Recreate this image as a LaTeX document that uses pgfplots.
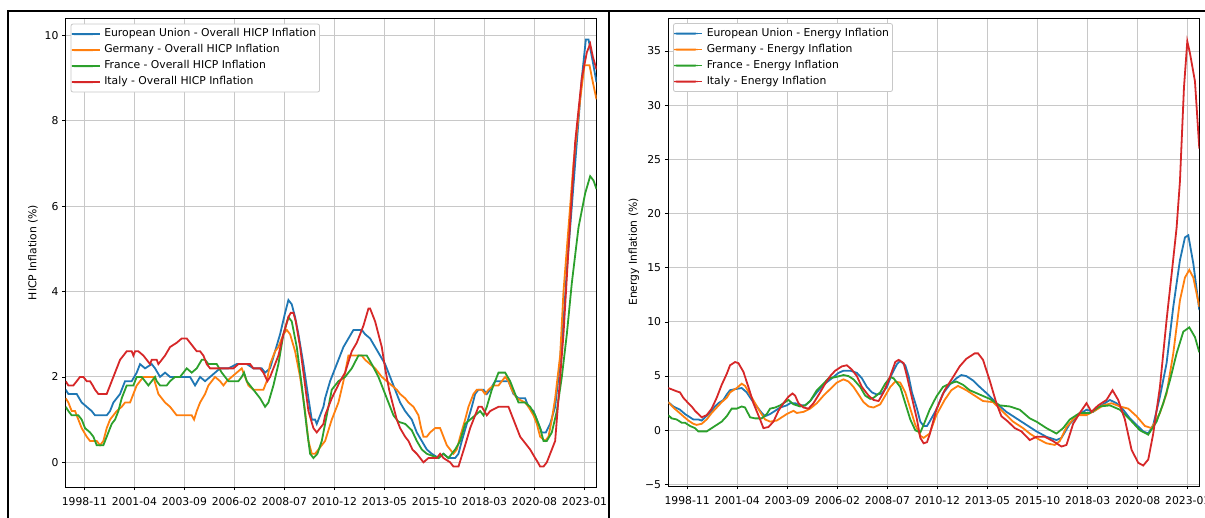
\documentclass[border=0pt]{standalone}
\usepackage{fontspec}
\setmainfont{DejaVu Sans}
\usepackage{pgfplots}
\pgfplotsset{compat=1.18}
\definecolor{cEU}{HTML}{1F77B4}
\definecolor{cDE}{HTML}{FF7F0E}
\definecolor{cFR}{HTML}{2CA02C}
\definecolor{cIT}{HTML}{D62728}
\definecolor{gridc}{HTML}{C8C8C8}
\newcommand{\ff}{\fontsize{10.8}{13}\selectfont}
\pgfplotsset{
  dl/.style={line width=1.8pt},
  panel/.style={
    scale only axis, anchor=south west,
    axis line style={line width=0.8pt},
    tick align=outside, major tick length=3.5pt, tick pos=left,
    every tick/.style={line width=0.8pt, black},
    xtick={0,30,60,90,120,150,180,210,240,270,300},
    xticklabels={1998-11,2001-04,2003-09,2006-02,2008-07,2010-12,2013-05,2015-10,2018-03,2020-08,2023-01},
    xticklabel shift=3pt,
    grid=major, major grid style={line width=0.9pt, color=gridc},
    /pgf/number format/assume math mode=true,
    tick label style={font=\ff},
    label style={font=\ff},
    legend cell align=left,
    legend image code/.code={\fill[##1, draw=none] (0pt,-1pt) rectangle (23pt,1pt); \path (0pt,0pt) -- (28pt,0pt);},
    legend style={anchor=north west, draw=gridc, line width=0.8pt,
      fill=white, rounded corners=2pt,
      inner xsep=0pt, inner ysep=2pt, row sep=0pt,
      nodes={inner ysep=3pt, inner xsep=3.5pt, text height=7.5pt, text depth=2.5pt},
      font=\ff},
  }
}
\begin{document}
\ff
\begin{tikzpicture}[x=1pt,y=1pt]
\useasboundingbox (0,0) rectangle (1205,518);
\begin{axis}[panel, at={(65.7pt,31pt)}, width=530.8pt, height=469pt,
  xmin=-11.2, xmax=307.2, ymin=-0.578, ymax=10.405,
  ytick={0,2,4,6,8,10},
  ylabel={HICP Inflation (\%)},
  every axis y label/.style={at={(axis description cs:-0.0616,0.5)}, rotate=90, anchor=center},
  legend style={at={(0.0092,0.988)}},
]
\addplot[cEU, dl] coordinates {(-11.2,1.7) (-9.6,1.6) (-4.6,1.6) (-1.6,1.4) (1.4,1.3) (4.4,1.2) (6.4,1.1) (13.4,1.1) (15.4,1.2) (17.4,1.4) (21.4,1.6) (24.4,1.9) (28.4,1.9) (31.4,2.1) (33.4,2.3) (36.4,2.2) (40.4,2.3) (42.4,2.2) (45.4,2.0) (48.4,2.1) (51.4,2.0) (63.4,2.0) (66.4,1.8) (69.4,2.0) (72.4,1.9) (75.4,2.0) (78.4,2.1) (81.4,2.2) (86.4,2.2) (91.4,2.3) (97.4,2.3) (101.4,2.2) (106.4,2.2) (108.4,2.1) (111.4,2.2) (114.4,2.6) (117.4,3.0) (120.4,3.5) (122.4,3.8) (124.4,3.7) (126.4,3.4) (128.4,3.0) (131.4,2.3) (134.4,1.5) (136.4,1.0) (138.4,1.0) (139.4,0.9) (143.4,1.3) (144.4,1.5) (147.4,1.9) (150.4,2.2) (153.4,2.5) (155.4,2.7) (158.4,2.9) (161.4,3.1) (166.4,3.1) (168.4,3.0) (171.4,2.9) (174.4,2.7) (177.4,2.5) (180.4,2.3) (183.4,2.0) (186.4,1.7) (189.4,1.4) (192.4,1.2) (196.4,1.0) (199.4,0.7) (202.4,0.5) (205.4,0.3) (208.4,0.2) (212.4,0.1) (215.4,0.2) (218.4,0.1) (222.4,0.1) (224.4,0.2) (226.4,0.5) (229.4,0.9) (232.4,1.3) (234.4,1.6) (236.4,1.7) (239.4,1.7) (241.4,1.6) (243.4,1.7) (246.4,1.9) (254.4,1.9) (257.4,1.6) (260.4,1.5) (264.4,1.5) (266.4,1.3) (269.4,1.2) (272.4,0.9) (274.4,0.7) (276.8,0.7) (279.4,0.9) (282.4,1.3) (284.4,2.0) (287.4,3.3) (289.4,4.5) (292.4,6.0) (295.4,7.5) (298.4,9.0) (300.8,9.9) (302.4,9.9) (304.4,9.5) (307.2,8.9)};
\addlegendentry{European Union - Overall HICP Inflation}
\addplot[cDE, dl] coordinates {(-11.2,1.5) (-9.6,1.4) (-7.6,1.2) (-5.6,1.2) (-3.6,1.0) (-1.6,0.8) (1.4,0.6) (3.4,0.5) (7.4,0.5) (9.4,0.4) (11.4,0.5) (13.4,0.8) (15.4,1.0) (19.4,1.2) (22.4,1.3) (24.4,1.4) (27.4,1.4) (29.4,1.6) (31.4,1.8) (33.4,1.9) (35.4,2.0) (41.4,2.0) (44.4,1.6) (46.4,1.5) (48.4,1.4) (51.4,1.3) (53.4,1.2) (55.4,1.1) (64.4,1.1) (65.8,1.0) (67.4,1.2) (69.4,1.4) (72.4,1.6) (74.4,1.8) (76.4,1.9) (78.4,2.0) (81.4,1.9) (83.4,1.8) (85.4,1.9) (88.4,2.0) (91.4,2.1) (94.4,2.2) (96.4,2.0) (98.4,1.8) (101.4,1.7) (107.4,1.7) (109.4,1.9) (111.4,2.3) (114.4,2.6) (116.4,2.7) (119.4,3.0) (121.4,3.1) (123.4,3.0) (126.4,2.6) (129.4,2.0) (132.4,1.2) (134.4,0.5) (136.4,0.2) (138.4,0.2) (140.4,0.3) (142.4,0.4) (144.4,0.5) (148.4,1.0) (152.4,1.4) (155.4,1.9) (158.4,2.5) (166.4,2.5) (168.4,2.4) (171.4,2.3) (174.4,2.2) (178.4,2.0) (184.4,1.8) (187.4,1.7) (189.4,1.6) (192.4,1.5) (194.4,1.4) (197.4,1.3) (200.4,1.1) (202,0.8) (203.4,0.6) (205.4,0.6) (207.4,0.7) (210.4,0.8) (213.4,0.8) (215.4,0.6) (217.4,0.4) (219.4,0.3) (221.4,0.2) (223.4,0.3) (225.4,0.6) (228.4,1.0) (230.4,1.3) (233.4,1.6) (235.4,1.7) (238.4,1.7) (240.4,1.6) (242.4,1.7) (245.4,1.8) (248.4,1.8) (250.4,1.9) (252.4,2.0) (254.4,1.9) (256.4,1.7) (259.4,1.5) (264.4,1.4) (266.4,1.3) (269.4,1.1) (271.4,0.9) (273.4,0.6) (276.4,0.5) (278.4,0.6) (280.4,1.0) (282.4,1.5) (285.4,2.5) (287.4,4.0) (289.4,5.0) (293.4,7.0) (297.4,8.5) (300,9.3) (303,9.3) (305,8.9) (307.2,8.5)};
\addlegendentry{Germany - Overall HICP Inflation}
\addplot[cFR, dl] coordinates {(-11.2,1.3) (-9.6,1.2) (-7.6,1.1) (-3.6,1.1) (-1.6,1.0) (0.4,0.8) (3.4,0.7) (5.4,0.6) (6.4,0.5) (7.4,0.4) (11.4,0.4) (12.4,0.5) (14.4,0.7) (16.4,0.9) (18.4,1.0) (20.4,1.2) (22.4,1.5) (24.4,1.7) (25.4,1.8) (29.4,1.8) (31.4,2.0) (34.4,2.0) (36.4,1.9) (38.4,1.8) (40.4,1.9) (42.4,2.0) (43.4,1.9) (45.4,1.8) (49.4,1.8) (51.4,1.9) (54.4,2.0) (57.4,2.0) (59.4,2.1) (61.4,2.2) (64.4,2.1) (67.4,2.2) (70.4,2.4) (72.4,2.4) (74.4,2.3) (79.4,2.3) (82.4,2.1) (84.4,2.0) (86.4,1.9) (92.4,1.9) (94.4,2.0) (95.8,2.1) (97.4,1.9) (99.4,1.8) (103.4,1.6) (105.4,1.5) (108.4,1.3) (110.4,1.4) (113.4,1.8) (116.4,2.3) (119.4,3.0) (122.4,3.4) (124.4,3.3) (127.4,2.7) (130.4,1.8) (133.4,0.8) (135.4,0.2) (137.4,0.1) (139.8,0.2) (142.4,0.5) (144.4,0.9) (146.4,1.3) (148.4,1.7) (152.4,1.9) (156.4,2.0) (160.4,2.2) (164.4,2.5) (169.4,2.5) (172.4,2.3) (176.4,2.0) (179.4,1.7) (182.4,1.4) (185.4,1.1) (188.4,0.95) (192.4,0.9) (196.4,0.75) (199.4,0.5) (202.4,0.3) (205.4,0.2) (212.4,0.1) (215.4,0.2) (218.4,0.1) (222.4,0.3) (225.4,0.5) (228.4,0.9) (231.4,1.0) (234.4,1.1) (237.4,1.2) (239.4,1.1) (241.4,1.3) (244.4,1.7) (246.4,1.9) (248.4,2.1) (252.4,2.1) (255.4,1.9) (258.4,1.6) (260.4,1.4) (264.4,1.4) (267.4,1.3) (270.4,1.1) (273.4,0.8) (275.4,0.5) (277.4,0.5) (280.4,0.7) (283.4,1.2) (286.4,2.0) (289.4,3.0) (292.4,4.2) (296.4,5.5) (300.4,6.3) (303.4,6.7) (305.4,6.6) (307.2,6.4)};
\addlegendentry{France - Overall HICP Inflation}
\addplot[cIT, dl] coordinates {(-11.2,1.9) (-9.6,1.8) (-6.6,1.8) (-4.6,1.9) (-2.6,2.0) (-0.6,2.0) (1.4,1.9) (3.4,1.9) (5.0,1.8) (6.4,1.7) (8.4,1.6) (13.4,1.6) (14.4,1.7) (16.4,1.9) (18.4,2.1) (21.4,2.4) (23.4,2.5) (25.4,2.6) (28.4,2.6) (29.4,2.5) (30.4,2.6) (32.4,2.6) (35.4,2.5) (37.4,2.4) (39.4,2.3) (40.4,2.4) (43.4,2.4) (44.4,2.3) (46.4,2.4) (48.4,2.5) (51.4,2.7) (55.4,2.8) (58.4,2.9) (61.4,2.9) (63.4,2.8) (65.4,2.7) (67.4,2.6) (69.4,2.6) (71.4,2.5) (73.4,2.3) (75.4,2.2) (89.4,2.2) (92.4,2.3) (99.4,2.3) (101.4,2.2) (105.4,2.2) (107.4,2.1) (109.8,1.9) (111.4,2.0) (113.4,2.2) (116.4,2.5) (119.4,3.0) (122.4,3.4) (123.8,3.5) (125.4,3.5) (126.8,3.3) (129.4,2.7) (132.4,1.8) (134.4,1.2) (137.4,0.8) (139.4,0.7) (141.4,0.8) (143.4,0.9) (144.4,1.1) (148.4,1.5) (153.4,1.9) (156.4,2.1) (160.4,2.6) (163.4,2.8) (166.4,3.1) (167.4,3.2) (170.4,3.6) (171.4,3.6) (174.4,3.3) (176.4,3.0) (178.4,2.7) (180.4,2.2) (182.8,1.7) (185.4,1.3) (187.4,1.0) (189.4,0.8) (192.4,0.6) (194.4,0.5) (196.8,0.3) (199.4,0.2) (201.4,0.1) (203.4,0.0) (206.4,0.1) (211.4,0.1) (213.4,0.2) (215.4,0.1) (219.4,0.0) (221.4,-0.1) (224.4,-0.1) (226,0.1) (228.4,0.4) (231.4,0.8) (234.4,1.1) (236.4,1.3) (238.4,1.3) (241.4,1.1) (243.4,1.2) (248.4,1.3) (254.4,1.3) (256.4,1.1) (259.4,0.8) (261.4,0.6) (263.4,0.5) (265.4,0.4) (267.4,0.3) (270.4,0.1) (272,0.0) (273.4,-0.1) (275.4,-0.1) (277.4,0.0) (280.4,0.3) (282.4,0.5) (284.4,1.5) (287.4,3.0) (290.4,5.0) (294.4,7.5) (298.4,9.0) (301.4,9.6) (303.4,9.8) (305,9.5) (307.2,9.2)};
\addlegendentry{Italy - Overall HICP Inflation}
\end{axis}
\begin{axis}[panel, at={(668.3pt,32pt)}, width=531pt, height=468pt,
  xmin=-11.3, xmax=306.9, ymin=-5.14, ymax=38.05,
  ytick={-5,0,5,10,15,20,25,30,35},
  yticklabels={−5,0,5,10,15,20,25,30,35},
  ylabel={Energy Inflation (\%)},
  every axis y label/.style={at={(axis description cs:-0.0646,0.5)}, rotate=90, anchor=center},
  legend style={at={(0.0090,0.989)}},
]
\addplot[cEU, dl] coordinates {(-11.3,2.6) (-8.3,2.2) (-4.3,1.9) (-1.3,1.5) (1.7,1.2) (3.7,1.0) (6.7,1.0) (8.7,0.9) (10.7,1.2) (13.7,1.6) (16.7,2.2) (18.7,2.5) (21.7,2.8) (23.7,3.3) (25.7,3.7) (28.7,3.8) (32.7,3.9) (35.7,3.5) (38.7,2.8) (41.7,2.2) (44.7,1.6) (46.7,1.3) (49.7,1.5) (52.7,1.8) (55.7,2.1) (59.7,2.3) (61.7,2.5) (64.7,2.5) (67.7,2.3) (70.7,2.3) (73.7,2.7) (77.7,3.5) (81.7,4.2) (86.7,4.8) (90.7,5.3) (93.7,5.5) (97.7,5.5) (101.7,5.3) (104.7,4.8) (107.7,4.0) (110.7,3.5) (113.7,3.3) (116.7,3.4) (119.7,4.0) (122.7,5.2) (125.7,6.1) (127.7,6.4) (130.7,6.0) (132.7,5.0) (134.7,3.5) (137.7,2.0) (139.7,0.8) (141.7,0.4) (143.7,0.4) (145.3,0.8) (149.3,1.9) (153.3,3.4) (157.3,4.2) (161.3,4.8) (164.3,5.1) (167.3,5.0) (171.3,4.6) (175.3,4.0) (180.3,3.3) (185.3,2.5) (191.3,1.7) (197.3,1.1) (203.3,0.5) (209.3,-0.1) (215.3,-0.6) (221.3,-0.9) (224.3,-0.7) (229.3,0.6) (234.3,1.4) (239.3,1.9) (243.3,1.7) (248.3,2.3) (253.3,2.8) (257.3,2.5) (261.3,1.9) (265.3,1.1) (269.3,0.5) (273.3,-0.1) (276.3,-0.3) (279.3,0.5) (283.3,3.1) (287.3,6.2) (291.3,11.4) (295.3,15.7) (298.3,17.8) (300.3,18.0) (303.3,15.4) (306.9,11.1)};
\addlegendentry{European Union - Energy Inflation}
\addplot[cDE, dl] coordinates {(-11.3,2.6) (-8.3,2.1) (-5.3,1.7) (-2.3,1.3) (0.7,0.9) (3.7,0.6) (5.7,0.5) (8.7,0.6) (11.7,1.0) (14.7,1.6) (17.7,2.1) (20.7,2.6) (23.7,3.0) (25.7,3.5) (29.7,3.9) (32.7,4.3) (34.7,4.1) (37.7,3.3) (40.7,2.5) (43.7,1.7) (46.7,1.0) (49.7,0.8) (53.7,0.9) (56.7,1.2) (59.7,1.5) (63.7,1.8) (65.7,1.6) (69.7,1.7) (73.7,2.0) (77.7,2.5) (81.7,3.2) (85.7,3.8) (89.7,4.4) (93.7,4.7) (96.7,4.5) (99.7,4.0) (102.7,3.3) (105.7,2.6) (108.7,2.2) (111.7,2.1) (115.7,2.4) (118.7,3.2) (121.7,4.0) (124.7,4.5) (127.7,4.4) (130.7,3.5) (133.7,2.0) (136.7,0.5) (139.7,-0.5) (141.7,-0.7) (145.3,-0.3) (149.3,1.4) (154.3,2.8) (158.3,3.7) (162.3,4.1) (167.3,3.7) (173.3,3.1) (177.3,2.7) (183.3,2.6) (189.3,1.7) (195.3,0.8) (201.3,0.2) (205.3,-0.3) (210.3,-0.8) (215.3,-1.2) (220.3,-1.35) (223.3,-1.0) (227.3,0.3) (233.3,1.4) (239.3,1.4) (245.3,1.9) (249.3,2.3) (254.3,2.5) (259.3,2.2) (264.3,2.0) (269.3,1.3) (274.3,0.4) (278.3,0.2) (283.3,1.6) (287.3,3.4) (291.3,7.1) (295.3,12.0) (298.3,14.1) (300.9,14.8) (303.3,14.1) (306.9,11.4)};
\addlegendentry{Germany - Energy Inflation}
\addplot[cFR, dl] coordinates {(-11.3,1.4) (-9.3,1.1) (-6.3,1.0) (-3.3,0.7) (-1.3,0.7) (1.7,0.4) (4.7,0.2) (6.7,-0.1) (11.7,-0.1) (14.7,0.2) (17.7,0.5) (20.7,0.8) (23.7,1.3) (26.7,2.0) (29.7,2.0) (32.7,2.2) (34.7,2.1) (37.7,1.2) (40.7,1.1) (44.7,1.1) (47.7,1.5) (49.7,2.0) (52.7,2.1) (55.7,2.3) (58.7,2.6) (60.7,2.8) (63.7,2.4) (67.7,2.2) (70.7,2.3) (73.7,2.7) (77.7,3.7) (81.7,4.3) (84.7,4.8) (88.7,4.9) (93.7,5.1) (96.7,5.0) (99.7,4.7) (103.7,4.0) (106.7,3.2) (109.7,2.9) (111.7,3.0) (115.7,3.5) (118.7,4.3) (121.7,4.9) (123.7,4.8) (127.7,4.0) (130.7,2.5) (133.7,1.0) (136.7,0.0) (139.7,-0.2) (141.7,0.5) (145.3,1.9) (149.3,3.1) (153.3,4.0) (157.3,4.3) (161.3,4.5) (165.3,4.2) (169.3,3.7) (175.3,3.3) (181.3,2.9) (187.3,2.3) (193.3,2.2) (199.3,1.9) (205.3,1.1) (209.3,0.8) (215.3,0.2) (221.3,-0.3) (225.3,0.2) (229.3,1.0) (235.3,1.6) (241.3,1.6) (247.3,2.2) (253.3,2.3) (259.3,1.9) (265.3,1.0) (271.3,0.0) (276.3,-0.4) (281.3,0.8) (285.3,2.5) (289.3,4.6) (293.3,7.1) (297.3,9.1) (300.9,9.5) (304.3,8.6) (306.9,7.2)};
\addlegendentry{France - Energy Inflation}
\addplot[cIT, dl] coordinates {(-11.3,3.9) (-6.3,3.6) (-4.3,3.5) (-2.3,3.0) (0.7,2.5) (2.7,2.2) (4.7,1.8) (6.7,1.5) (8.7,1.2) (11.7,1.4) (14.7,2.0) (17.7,3.0) (20.7,4.2) (23.7,5.2) (25.7,6.0) (28.7,6.3) (30.7,6.2) (33.7,5.4) (36.7,4.0) (39.7,2.5) (43.7,1.0) (45.7,0.2) (48.7,0.3) (51.7,0.8) (54.7,1.8) (57.7,2.5) (60.7,3.1) (63.1,3.4) (64.7,3.2) (66.7,2.5) (69.7,2.1) (72.7,2.0) (75.7,2.5) (79.7,3.5) (82.7,4.3) (85.7,5.0) (88.7,5.5) (92.7,5.9) (95.7,6.0) (98.7,5.6) (101.7,5.0) (104.7,4.0) (108.7,3.2) (111.7,2.8) (114.7,2.7) (117.7,3.5) (121.7,5.0) (124.7,6.3) (126.7,6.5) (129.7,6.2) (131.7,5.0) (134.7,3.0) (137.7,1.0) (139.7,-0.7) (141.7,-1.2) (143.7,-1.1) (145.3,-0.4) (149.3,1.9) (154.3,3.7) (159.3,4.9) (163.3,5.9) (167.3,6.6) (172.3,7.1) (174.3,7.1) (177.3,6.5) (181.3,4.6) (185.3,2.5) (188.3,1.3) (192.3,0.8) (196.3,0.2) (200.3,-0.1) (205.3,-0.9) (209.3,-0.6) (214.3,-0.6) (219.3,-1.0) (224.3,-1.5) (227.3,-1.35) (231.3,0.6) (235.3,1.6) (239.3,2.5) (242.3,1.7) (246.3,2.3) (251.3,2.8) (254.9,3.7) (258.3,2.8) (262.3,1.0) (266.3,-1.8) (270.3,-3.0) (273.3,-3.25) (276.3,-2.7) (279.3,-0.3) (283.3,4.0) (287.3,10.2) (290.3,14.4) (293.3,18.7) (295.3,23.0) (297.7,31.6) (299.7,35.9) (301.3,34.8) (304.3,32.2) (306.9,26.0)};
\addlegendentry{Italy - Energy Inflation}
\end{axis}
\draw[line width=2.4pt] (8,0) -- (8,507) -- (1205,507);
\draw[line width=2.6pt] (609,0) -- (609,507);
\end{tikzpicture}
\end{document}
